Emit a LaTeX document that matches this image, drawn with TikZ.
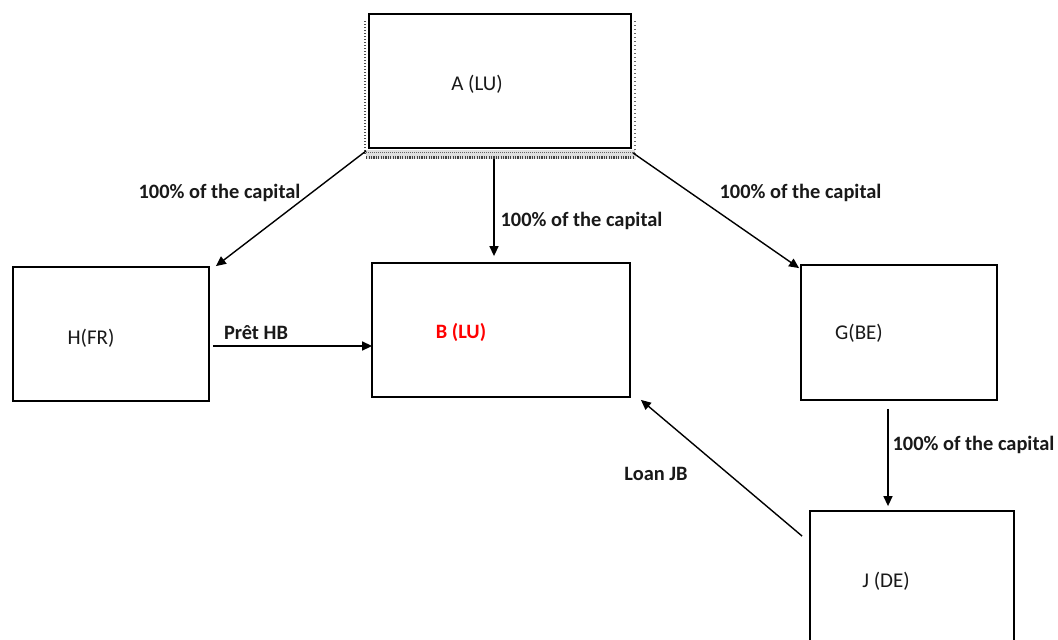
\documentclass[tikz,border=0pt]{standalone}
\usepackage{fontspec}
\setmainfont{Carlito}
\usetikzlibrary{arrows.meta,calc}
\begin{document}
\begin{tikzpicture}[x=1pt,y=-1pt,
  box/.style={draw=black,line width=1.8pt,rectangle,inner sep=0pt},
  conn/.style={draw=black,line width=1.4pt,-{Triangle[length=10pt,width=9pt]}},
  lab/.style={font=\fontsize{20.4}{24}\selectfont\bfseries,text=black!90,inner sep=0pt},
  boxtext/.style={font=\fontsize{21}{24}\selectfont,text=black!90,inner sep=0pt}]
\useasboundingbox (0,0) rectangle (1058,640);
\fill[white] (0,0) rectangle (1058,640);
% boxes
\node[box,minimum width=262pt,minimum height=134pt] (A) at (500,81) {};
\node[box,minimum width=196pt,minimum height=134pt] (H) at (111,334) {};
\node[box,minimum width=258pt,minimum height=134pt] (B) at (501,330) {};
\node[box,minimum width=196pt,minimum height=135pt] (G) at (899,332.5) {};
\node[box,minimum width=204pt,minimum height=134pt] (J) at (912,578) {};
% shadow band of A
\fill[gray!25] ($(A.south west)+(-2,1)$) rectangle ($(A.south east)+(3,10)$);
\draw[line width=3pt,black!75,dash pattern=on 1.2pt off 1.2pt] ($(A.south west)+(-2,8.5)$) -- ($(A.south east)+(3,8.5)$);
\draw[line width=1pt,black!60,dash pattern=on 1pt off 1pt] ($(A.south west)+(-2,4)$) -- ($(A.south east)+(3,4)$);
\draw[line width=2.5pt,black!70,dash pattern=on 1pt off 2pt] ($(A.north west)+(-3,8)$) -- ($(A.south west)+(-3,6)$);
\draw[line width=2pt,black!60,dash pattern=on 1pt off 3pt] ($(A.north east)+(3,8)$) -- ($(A.south east)+(3,6)$);
% texts
\node[boxtext] (tA) at (477,84) {A (LU)};
\node[boxtext] (tH) at (91,338) {H(FR)};
\node[lab,text=red] (tB) at (461,332) {B (LU)};
\node[boxtext] (tG) at (859,333) {G(BE)};
\node[boxtext] (tJ) at (886,581) {J (DE)};
% connectors
\draw[conn] ($(A.south west)+(-2,2)$) -- ($(H.north east)+(6,0)$);
\draw[conn] ($(A.south)+(-6,10)$) -- ($(B.north)+(-7,-6)$);
\draw[conn] ($(A.south east)+(1,4)$) -- ($(G.north west)+(-1,4)$);
\draw[conn] ($(H.east)+(3,12)$) -- ($(B.west)+(1,16)$);
\draw[conn] ($(G.south)+(-11,8)$) -- ($(J.north)+(-24,-4)$);
\draw[conn] ($(J.north west)+(-7,26)$) -- ($(B.south east)+(10,2)$);
% labels
\node[lab] (l1) at (219.5,193) {100\% of the capital};
\node[lab] (l2) at (581.5,221) {100\% of the capital};
\node[lab] (l3) at (800.5,193) {100\% of the capital};
\node[lab] (l4) at (973.5,445) {100\% of the capital};
\node[lab] (l5) at (256,333) {Prêt HB};
\node[lab] (l6) at (656,474) {Loan JB};
\end{tikzpicture}
\end{document}
